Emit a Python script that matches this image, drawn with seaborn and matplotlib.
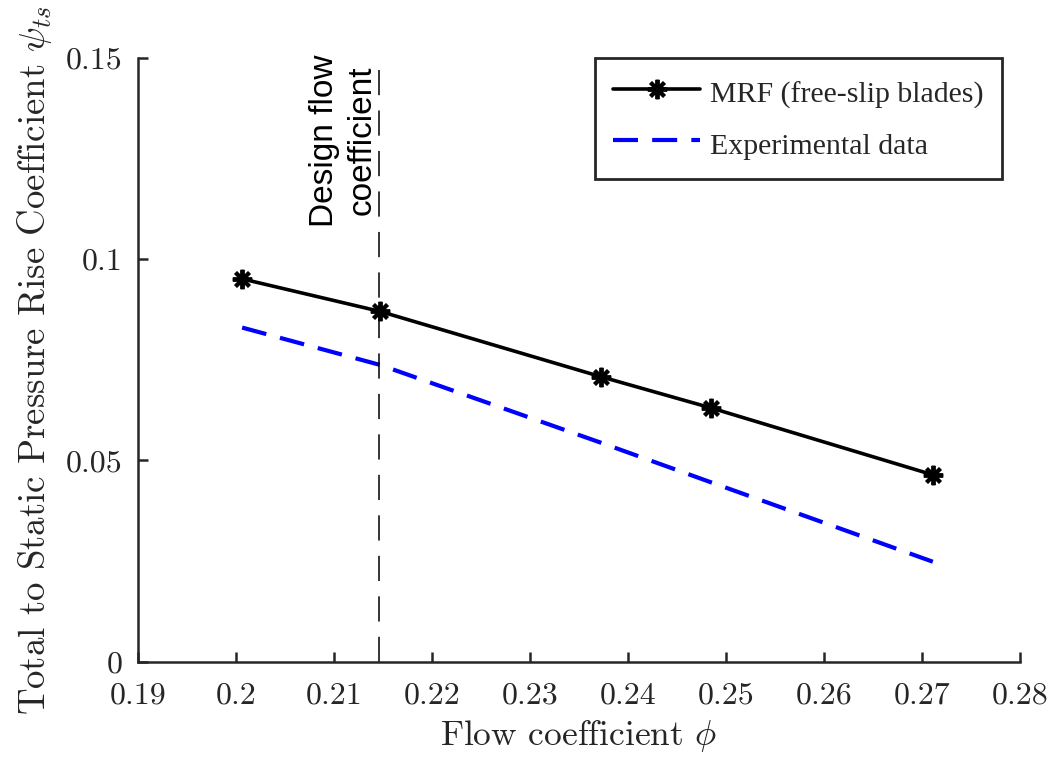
import numpy as np
import pandas as pd
import seaborn as sns
import matplotlib
matplotlib.use("Agg")
import matplotlib.pyplot as plt

# ---- data ----
mrf_phi = [0.2006, 0.2147, 0.2372, 0.2485, 0.2711]
mrf_psi = [0.0951, 0.0870, 0.0708, 0.0630, 0.0464]
exp_phi = [0.2006, 0.2147, 0.2372, 0.2485, 0.2711]
exp_psi = [0.0830, 0.0737, 0.0544, 0.0445, 0.0248]
design_phi = 0.2146
x_ticks = [0.19, 0.20, 0.21, 0.22, 0.23, 0.24, 0.25, 0.26, 0.27, 0.28]
x_ticklabels = ["0.19", "0.2", "0.21", "0.22", "0.23", "0.24", "0.25", "0.26", "0.27", "0.28"]
y_ticks = [0.0, 0.05, 0.10, 0.15]
y_ticklabels = ["0", "0.05", "0.1", "0.15"]
series_labels = ["MRF (free-slip blades)", "Experimental data"]

sns.set_style("ticks")
plt.rcParams["mathtext.fontset"] = "cm"
plt.rcParams["font.family"] = ["cmr10", "DejaVu Serif"]
plt.rcParams["axes.formatter.use_mathtext"] = True

axc = "#262626"
fig = plt.figure(figsize=(10.5, 7.57), dpi=100)
ax = fig.add_axes([138.3 / 1050, 1 - 661.5 / 757, (1020 - 138.3) / 1050, (661.5 - 58) / 757])

df_mrf = pd.DataFrame({"phi": mrf_phi, "psi": mrf_psi})
df_exp = pd.DataFrame({"phi": exp_phi, "psi": exp_psi})

sns.lineplot(data=df_mrf, x="phi", y="psi", ax=ax, color="black", lw=2.6,
             marker=(8, 2, 0), markersize=14, markeredgewidth=2.8,
             markeredgecolor="black", label=series_labels[0])
sns.lineplot(data=df_exp, x="phi", y="psi", ax=ax, color="blue", lw=3.0,
             label=series_labels[1])
ax.lines[-1].set_dashes([6.0, 3.4])

vl = ax.axvline(design_phi, ymin=0, ymax=0.983, color="black", lw=1.1)
vl.set_dashes([16.5, 10])

ax.annotate("Design flow\ncoefficient", xy=(design_phi, 0.1295), xytext=(-1.5, 0),
            textcoords="offset points", rotation=90, ha="right", va="center",
            multialignment="center", family="Liberation Sans", fontsize=24,
            color="black", linespacing=1.25)

ax.set_xlim(0.19, 0.28)
ax.set_ylim(0, 0.15)
ax.set_xticks(x_ticks)
ax.set_xticklabels(x_ticklabels)
ax.set_yticks(y_ticks)
ax.set_yticklabels(y_ticklabels)
ax.tick_params(direction="in", length=7, width=1.8, labelsize=23, colors=axc,
               labelcolor=axc)
ax.tick_params(axis="x", pad=15)
ax.tick_params(axis="y", pad=11.5)
sns.despine(ax=ax)
for s in ["left", "bottom"]:
    ax.spines[s].set_linewidth(1.8)
    ax.spines[s].set_color(axc)

ax.set_xlabel(r"Flow coefficient $\phi$", fontsize=25.5, color=axc, labelpad=6)
ax.set_ylabel(r"Total to Static Pressure Rise Coefficient $\psi_{ts}$", fontsize=26.5,
              color=axc, labelpad=8)

leg = ax.legend(loc="upper right", bbox_to_anchor=((1002 - 138.3) / 881.7, 1.0),
                borderaxespad=0, prop={"family": "Liberation Serif", "size": 21.5},
                handlelength=2.9, handleheight=1.37, frameon=True, fancybox=False,
                edgecolor=axc, framealpha=1, borderpad=0.6, labelspacing=0.57,
                handletextpad=0.35)
leg.get_frame().set_linewidth(2)

fig.savefig("out.png", dpi=100)
